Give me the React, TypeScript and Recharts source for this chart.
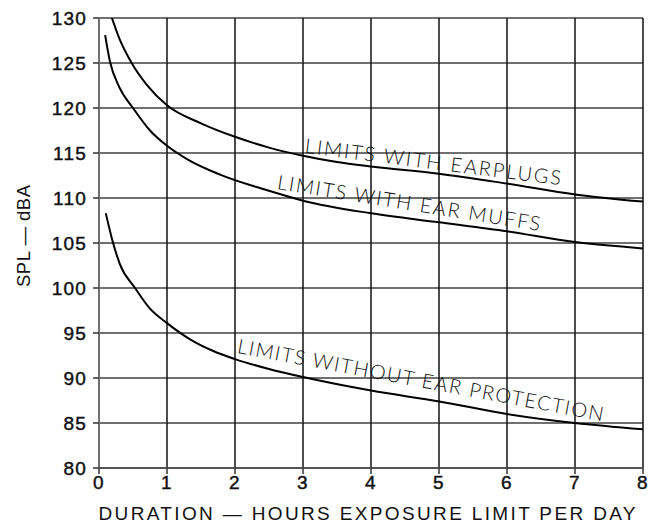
import React from "react";
import { LineChart, Line, XAxis, YAxis, CartesianGrid, ReferenceDot, Label } from "recharts";

const xTicks = [0, 1, 2, 3, 4, 5, 6, 7, 8];
const yTicks = [80, 85, 90, 95, 100, 105, 110, 115, 120, 125, 130];

const earplugsHours = [0.19, 0.3, 0.48, 0.7, 1.0, 1.5, 2.0, 2.5, 3, 3.5, 4, 5, 6, 7, 8];
const earplugsSpl = [130, 127.7, 125, 122.6, 120.3, 118.3, 116.8, 115.6, 114.7, 114.0, 113.5, 112.7, 111.6, 110.4, 109.6];

const muffsHours = [0.09, 0.16, 0.3, 0.5, 0.75, 1.0, 1.3, 1.78, 2.5, 3, 4, 5, 6, 7, 8];
const muffsSpl = [128.1, 125.2, 122.3, 120, 117.5, 115.8, 114.3, 112.6, 110.8, 109.7, 108.3, 107.3, 106.3, 105.1, 104.4];

const noneHours = [0.1, 0.2, 0.31, 0.53, 0.75, 1.0, 1.34, 1.68, 2.0, 2.5, 3, 4, 5, 6, 7, 8];
const noneSpl = [108.3, 105.2, 102.6, 100, 97.7, 96.1, 94.3, 93.0, 92.1, 91.0, 90.1, 88.6, 87.4, 86.0, 85.0, 84.3];

const curveLabels = ["LIMITS WITH EARPLUGS", "LIMITS WITH EAR MUFFS", "LIMITS WITHOUT EAR PROTECTION"];
const labelHours = [4.9, 4.54, 4.71];
const labelSpl = [113.22, 108.67, 89.0];
const labelAngles = [7.2, 9.1, 10.6];
const labelLengths = [258, 266, 372];

const xTitle = "DURATION — HOURS EXPOSURE LIMIT PER DAY";
const yTitle = "SPL — dBA";

const toRows = (xs: number[], ys: number[]) => xs.map((x, i) => ({ x, y: ys[i] }));
const earplugs = toRows(earplugsHours, earplugsSpl);
const muffs = toRows(muffsHours, muffsSpl);
const none = toRows(noneHours, noneSpl);

const FONT = "'Liberation Sans', Arial, sans-serif";
const tickFont = { fontFamily: FONT, fontSize: 19, fill: "#111", stroke: "#111", strokeWidth: 0.45, letterSpacing: 1.2 };

const hLine = (p: any) => (
  <line key={p.key} x1={p.x1} y1={p.y1} x2={p.x2} y2={p.y2} stroke={p.index === 0 ? "#111" : "#707070"} strokeWidth={p.index === 0 ? 1.5 : 2} />
);
const vLine = (p: any) => (
  <line key={p.key} x1={p.x1} y1={p.y1} x2={p.x2} y2={p.y2} stroke="#111" strokeWidth={1.5} />
);

const makeLabelShape = (i: number) => (p: any) => (
  <text
    x={p.cx}
    y={p.cy}
    transform={`rotate(${labelAngles[i]}, ${p.cx}, ${p.cy})`}
    textAnchor="middle"
    textLength={labelLengths[i]}
    lengthAdjust="spacing"
    fontFamily="Lato, 'DejaVu Sans', sans-serif"
    fontWeight={300}
    fontSize={20}
    fill="#111"
  >
    {curveLabels[i]}
  </text>
);

const XTitle = (props: any) => {
  const vb = props.viewBox;
  return (
    <text x={vb.x + vb.width / 2 - 4} y={vb.y + 52} textAnchor="middle" textLength={537} lengthAdjust="spacing"
      fontFamily={FONT} fontSize={19} fill="#111">
      {xTitle}
    </text>
  );
};

const YTitle = (props: any) => {
  const vb = props.viewBox;
  const cx = vb.x + 30;
  const cy = vb.y + vb.height / 2 - 7;
  return (
    <text x={cx} y={cy} transform={`rotate(-90, ${cx}, ${cy})`} textAnchor="middle" textLength={102} lengthAdjust="spacing"
      fontFamily={FONT} fontSize={18.5} fill="#111">
      {yTitle}
    </text>
  );
};

export default function App() {
  return (
    <div style={{ position: "absolute", left: 0, top: 0, background: "#fff" }}>
      <LineChart width={657} height={525} margin={{ top: 18, right: 14, bottom: 0, left: 0 }}>
        <CartesianGrid horizontal={hLine} vertical={vLine} />
        <XAxis
          type="number"
          dataKey="x"
          domain={[0, 8]}
          ticks={xTicks}
          height={57}
          tick={tickFont}
          tickSize={6}
          tickMargin={2}
          axisLine={{ stroke: "#555", strokeWidth: 2 }}
          tickLine={{ stroke: "#333", strokeWidth: 1.5 }}
          interval={0}
        >
          <Label content={XTitle} />
        </XAxis>
        <YAxis
          type="number"
          domain={[80, 130]}
          ticks={yTicks}
          width={99}
          tick={tickFont}
          tickSize={6}
          tickMargin={6}
          axisLine={{ stroke: "#707070", strokeWidth: 2 }}
          tickLine={{ stroke: "#333", strokeWidth: 1.5 }}
          interval={0}
          allowDataOverflow
        >
          <Label content={YTitle} />
        </YAxis>
        <Line data={earplugs} dataKey="y" type="monotone" stroke="#000" strokeWidth={2} dot={false} isAnimationActive={false} />
        <Line data={muffs} dataKey="y" type="monotone" stroke="#000" strokeWidth={2} dot={false} isAnimationActive={false} />
        <Line data={none} dataKey="y" type="monotone" stroke="#000" strokeWidth={2} dot={false} isAnimationActive={false} />
        {curveLabels.map((_, i) => (
          <ReferenceDot key={i} x={labelHours[i]} y={labelSpl[i]} r={0} ifOverflow="visible" shape={makeLabelShape(i)} />
        ))}
      </LineChart>
    </div>
  );
}
